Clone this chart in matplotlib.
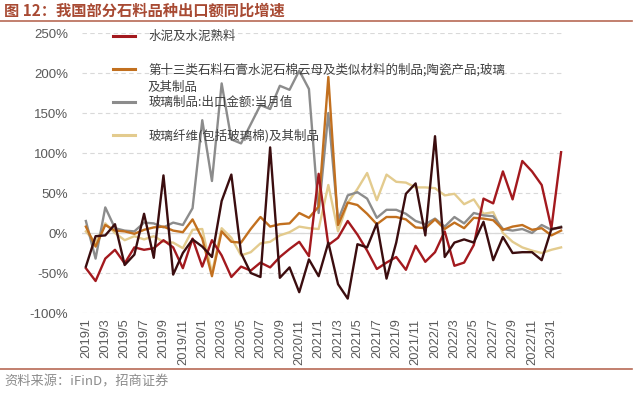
import numpy as np
import matplotlib
matplotlib.use("Agg")
import matplotlib.pyplot as plt
from matplotlib.lines import Line2D

plt.rcParams['font.family'] = ['Liberation Sans', 'Noto Sans CJK SC', 'DejaVu Sans']

title = "图 12：我国部分石料品种出口额同比增速"
source = "资料来源：iFinD，招商证券"

months = [f"{y}/{m}" for y in range(2019, 2024) for m in range(1, 13)][:50]
tick_labels = months[::2]

cement = [-44, -60, -32, -21, -38, -18, -21, -19, -9, -18, -44, -7, -42, -9, -28, -55, -42, -47, -37, -43,
          -30, -20, -11, -29, 74, -15, -6, 15, -2, -22, -45, -37, -30, -46, -16, -36, -24, 2, -41, -37,
          -15, 43, 37, 77, 42, 90, 77, 60, 6, 101]
clinker = [-42, -4, -3, 11, -40, -27, 24, -31, 72, -52, -25, -8, -17, -30, 40, 73, -25, -50, -55, 107,
           -56, -43, -74, -33, -54, -12, -64, -82, -14, -18, 12, -57, -12, 49, 62, -3, 121, -30, -12, -8,
           -12, 14, -34, -5, -25, -24, -24, -34, 5, 7]
stone13 = [8, -17, 10, 3, 2, -1, 4, 7, 8, 3, 1, 17, -7, -54, 2, -11, -12, 5, 20, 8,
           11, 12, 25, 19, 33, 195, 10, 38, 35, 24, 11, 20, 20, 17, 7, 6, 17, 5, 13, 6,
           19, 18, 16, 4, 8, 10, 4, 6, -3, 3]
glass = [15, -32, 32, 6, 3, 2, 13, 12, 7, 13, 10, 31, 141, 65, 187, 117, 112, 136, 160, 155,
         184, 179, 203, 180, 25, 150, 16, 47, 51, 43, 19, 29, 29, 24, 15, 11, 18, 8, 20, 12,
         25, 22, 21, 5, 3, 5, 0, 10, 4, 8]
fiber = [2, -12, 12, 0, -9, -4, -8, -4, -11, -12, -19, 4, 5, -50, 6, -6, -28, -24, -13, -11,
         -3, 1, 8, 6, 5, 60, 2, 38, 55, 75, 41, 73, 64, 63, 57, 57, 56, 47, 49, 36,
         42, 24, 26, 0, -11, -18, -22, -25, -21, -18]

labels = ["水泥及水泥熟料",
          "第十三类石料石膏水泥石棉云母及类似材料的制品;陶瓷产品;玻璃",
          "玻璃制品:出口金额:当月值",
          "玻璃纤维(包括玻璃棉)及其制品"]
colors = {"cement": "#A3191E", "clinker": "#3B0D0F", "stone13": "#C2701F",
          "glass": "#8C8C8C", "fiber": "#E3CB8E"}

x = np.arange(len(months))

fig = plt.figure(figsize=(6.4, 3.94), dpi=100)
ax = fig.add_axes([82/640, 1-313/394, (564-82)/640, (313-33)/394])

lw = 1.7
ax.plot(x, fiber, color=colors["fiber"], lw=lw, zorder=3)
ax.plot(x, glass, color=colors["glass"], lw=lw, zorder=4)
ax.plot(x, stone13, color=colors["stone13"], lw=lw, zorder=5)
ax.plot(x, cement, color=colors["cement"], lw=lw, zorder=6)
ax.plot(x, clinker, color=colors["clinker"], lw=lw, zorder=7)

ax.set_ylim(-100, 250)
ax.set_xlim(-0.4, 49.3)
ax.set_yticks(np.arange(-100, 251, 50))
ax.set_yticklabels([f"{v}%" for v in range(-100, 251, 50)])
ax.set_xticks(x[::2])
ax.set_xticklabels(tick_labels, rotation=90)
ax.tick_params(axis='both', length=0, colors='#595959')
ax.tick_params(axis='y', labelsize=9.5, pad=10)
ax.tick_params(axis='x', labelsize=9.3, pad=4)
for s in ax.spines.values():
    s.set_visible(False)
ax.yaxis.grid(True, color='#D9D9D9', lw=0.8, ls=(0, (4, 3)))
ax.set_axisbelow(True)
ax.axhline(0, color='#D9D9D9', lw=0.9, zorder=1)

handles = [Line2D([], [], color=colors["cement"], lw=2.2),
           Line2D([], [], color=colors["stone13"], lw=2.2),
           Line2D([], [], color=colors["glass"], lw=2.2),
           Line2D([], [], color=colors["fiber"], lw=2.2)]
leg = ax.legend(handles, labels, loc='upper left', bbox_to_anchor=(102/640, 1-19/394),
                bbox_transform=fig.transFigure, frameon=False,
                handlelength=1.76, handletextpad=1.04, labelspacing=1.57,
                prop={'family': ['Noto Sans CJK SC', 'DejaVu Sans'], 'size': 9})
for t in leg.get_texts():
    t.set_color('#404040')
fig.text(148/640, 1-87/394, "及其制品", fontsize=9, color='#404040',
         family=['Noto Sans CJK SC', 'DejaVu Sans'], va='center', ha='left')

fig.text(4/640, 1-11/394, title, fontsize=11, fontweight='bold', color='#A84A33',
         family=['Noto Sans CJK SC', 'DejaVu Sans'], va='center', ha='left')
fig.add_artist(Line2D([0, 632/640], [1-21/394, 1-21/394], color='#B86A55', lw=1.2,
                      transform=fig.transFigure))
fig.add_artist(Line2D([0, 632/640], [1-369/394, 1-369/394], color='#B86A55', lw=1.2,
                      transform=fig.transFigure))
fig.text(4/640, 1-382/394, source, fontsize=9.5, color='#8C8C8C',
         family=['Noto Sans CJK SC', 'DejaVu Sans'], va='center', ha='left')

fig.savefig("out.png", dpi=100)
